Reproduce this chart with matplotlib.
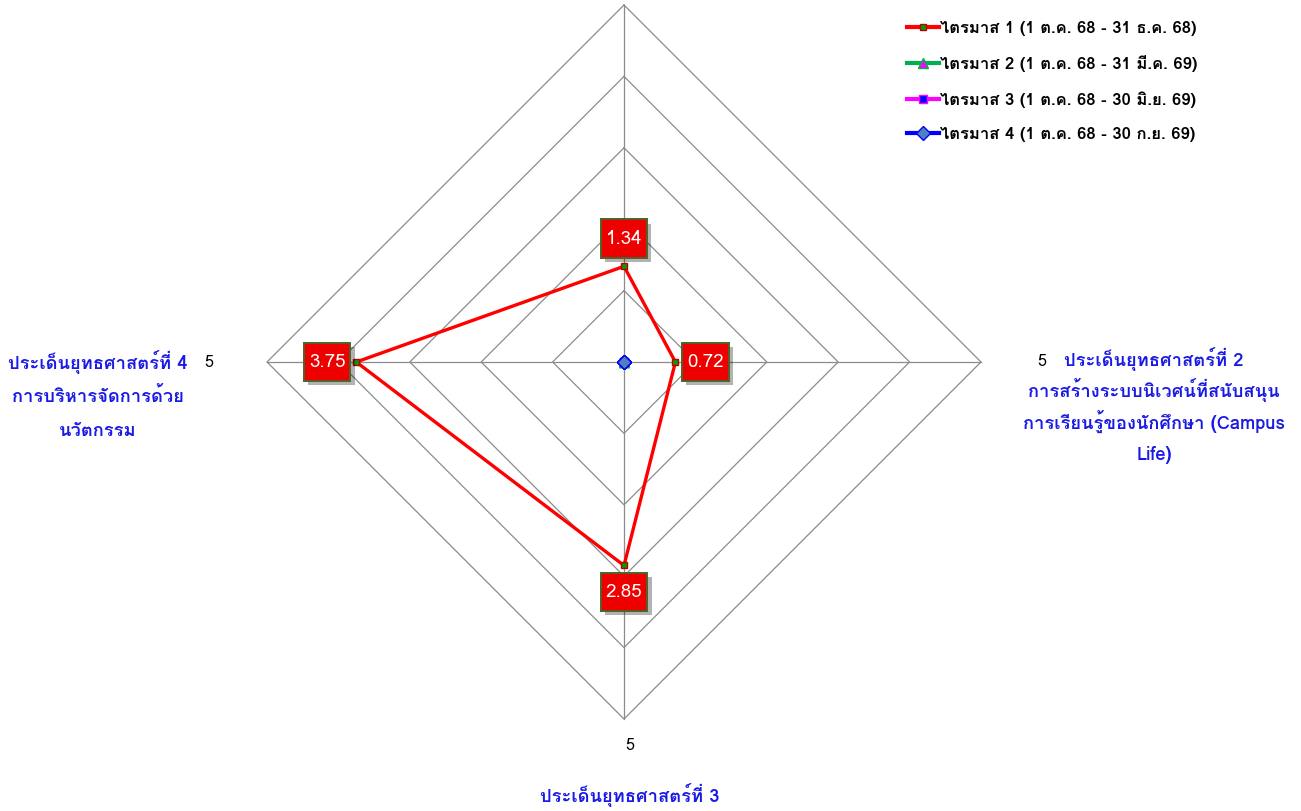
import numpy as np
import matplotlib
matplotlib.use("Agg")
import matplotlib.pyplot as plt
from matplotlib.lines import Line2D
import matplotlib.patheffects as pe

plt.rcParams['font.family'] = ['Loma', 'DejaVu Sans']

# ---- data ----
categories = [
    "ประเด็นยุทธศาสตร์ที่ 1",
    "ประเด็นยุทธศาสตร์ที่ 2\nการสร้างระบบนิเวศน์ที่สนับสนุน\nการเรียนรู้ของนักศึกษา (Campus\nLife)",
    "ประเด็นยุทธศาสตร์ที่ 3",
    "ประเด็นยุทธศาสตร์ที่ 4\nการบริหารจัดการด้วย\nนวัตกรรม",
]
series_names = [
    "ไตรมาส 1 (1 ต.ค. 68 - 31 ธ.ค. 68)",
    "ไตรมาส 2 (1 ต.ค. 68 - 31 มี.ค. 69)",
    "ไตรมาส 3 (1 ต.ค. 68 - 30 มิ.ย. 69)",
    "ไตรมาส 4 (1 ต.ค. 68 - 30 ก.ย. 69)",
]
q1 = [1.34, 0.72, 2.85, 3.75]
q2 = [0, 0, 0, 0]
q3 = [0, 0, 0, 0]
q4 = [0, 0, 0, 0]
series_values = [q1, q2, q3, q4]
rings = [1, 2, 3, 4, 5]
r_max = 5

# ---- styles ----
line_colors = ["#FF0000", "#00B050", "#FF00FF", "#0000FF"]
markers = ["s", "^", "s", "D"]
m_face = ["#00A000", "#FF00FF", "#0000FF", "#4F81BD"]
m_edge = ["#C00000", "#00B050", "#FF00FF", "#0000FF"]
m_size = [5, 7, 6, 7]

W, H = 1301, 811
fig = plt.figure(figsize=(W / 100, H / 100), dpi=100)
ax = fig.add_axes([0, 0, 1, 1])
cx, cy = 624, 362          # center in pixels (from top)
rpx = 357                  # pixels for value 5
s = rpx / r_max
ax.set_xlim(-cx / s, (W - cx) / s)
ax.set_ylim(-(H - cy) / s, cy / s)
ax.axis("off")

def px2d(x, y):
    return (x - cx) / s, (cy - y) / s

n = len(categories)
angles = np.pi / 2 - np.arange(n) * 2 * np.pi / n   # top, right, bottom, left
cosA, sinA = np.cos(angles), np.sin(angles)

grid_c = "#8C8C8C"
for r in rings:
    xs = np.append(r * cosA, r * cosA[0])
    ys = np.append(r * sinA, r * sinA[0])
    ax.plot(xs, ys, color=grid_c, lw=0.9, zorder=1)
for i in range(n):
    ax.plot([0, r_max * cosA[i]], [0, r_max * sinA[i]], color=grid_c, lw=0.9, zorder=1)

handles = []
for k, vals in enumerate(series_values):
    v = np.array(vals, dtype=float)
    xs = np.append(v * cosA, v[0] * cosA[0])
    ys = np.append(v * sinA, v[0] * sinA[0])
    ax.plot(xs, ys, color=line_colors[k], lw=2.4, zorder=3 + k, solid_joinstyle="miter")
    ax.plot(v * cosA, v * sinA, ls="none", marker=markers[k], ms=m_size[k],
            mfc=m_face[k], mec=m_edge[k], mew=1.0, zorder=3 + k)
    handles.append(Line2D([], [], color=line_colors[k], lw=3.0, marker=markers[k],
                          ms=m_size[k], mfc=m_face[k], mec=m_edge[k], mew=1.0))

# data labels for series 1
label_off = [20, 21.5, 19, 21]
for i, val in enumerate(q1):
    px, py = val * cosA[i], val * sinA[i]
    off = (label_off[i] * cosA[i], label_off[i] * sinA[i])
    t = ax.annotate(f"{val:.2f}", (px, py), xytext=off, textcoords="offset points",
                    ha="center", va="center", fontsize=13.5, color="white", zorder=9,
                    bbox=dict(boxstyle="square,pad=0.27", mutation_aspect=2.0,
                              fc="#EE0000", ec="#4F6228", lw=1.4))
    t.get_bbox_patch().set_path_effects([
        pe.SimplePatchShadow(offset=(3, -3), shadow_rgbFace="#000000", alpha=0.3),
        pe.Normal()])

# axis value labels "5" (top one falls outside the picture)
tick_pos = [(1042, 362), (630, 746), (209, 363)]
for (tx, ty) in tick_pos:
    ax.text(*px2d(tx, ty), str(r_max), ha="center", va="center",
            fontsize=11.5, color="#000000")

# category labels: (center x, first baseline y, line step) in pixels
cat_color = "#1A1AE6"
cat_layout = {1: (1154, 366, 31.5), 2: (630, 802, 33), 3: (98, 369, 33.5)}
for idx, (tx, by, step) in cat_layout.items():
    lines = categories[idx].split("\n")
    for j, line in enumerate(lines):
        ax.text(*px2d(tx, by + j * step), line, ha="center", va="baseline",
                fontsize=13.2, fontweight="bold", color=cat_color)

leg = ax.legend(handles, series_names, loc="upper left", bbox_to_anchor=(900 / W, 1 - 14 / H),
                frameon=False, fontsize=12, handlelength=1.95, handletextpad=0.08,
                labelspacing=1.15, borderaxespad=0)
for t in leg.get_texts():
    t.set_fontweight("bold")

fig.savefig("out.png", dpi=100)
